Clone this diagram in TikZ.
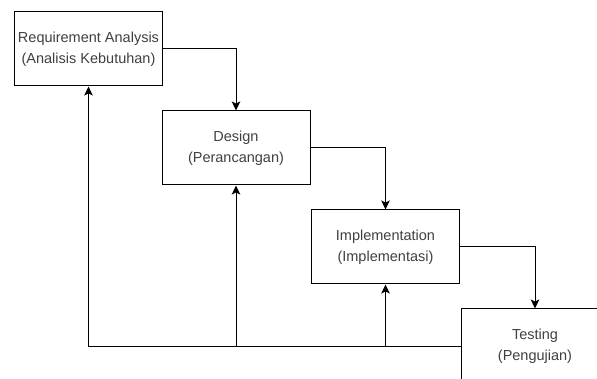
\documentclass[tikz,border=0pt]{standalone}
\usepackage{fontspec}
\setmainfont{Liberation Sans}
\usetikzlibrary{arrows.meta}

\tikzset{
  phase/.style={draw, line width=1pt, minimum width=148pt, minimum height=74pt,
    inner sep=0pt, align=center, text=black!75,
    font=\fontsize{14.5}{21}\selectfont},
  flow/.style={line width=1pt, -{Stealth[length=9pt,width=8.5pt,inset=2pt]}}
}

\begin{document}
\begin{tikzpicture}[x=1pt,y=-1pt]

            \clip (0,0) rectangle (597,379);
            \fill[white] (0,0) rectangle (597,379);

            \node[phase] (req) at (88.5,49) {Requirement Analysis\\(Analisis Kebutuhan)};
            \node[phase] (des) at (236,148) {Design\\(Perancangan)};
            \node[phase] (imp) at (385.5,247) {Implementation\\(Implementasi)};
            \node[phase] (tst) at (535,346) {Testing\\(Pengujian)};

            \draw[flow] (req.east) -| (des.north);
            \draw[flow] (des.east) -| (imp.north);
            \draw[flow] (imp.east) -| (tst.north);

            % back to earlier phases
            \coordinate (backdes) at (des.south |- tst.west);
            \coordinate (backimp) at (imp.south |- tst.west);
            \draw[flow] (tst.west) -| (req.south);
            \draw[flow] (backdes) -- (des.south);
            \draw[flow] (backimp) -- (imp.south);

        \end{tikzpicture}
\end{document}
